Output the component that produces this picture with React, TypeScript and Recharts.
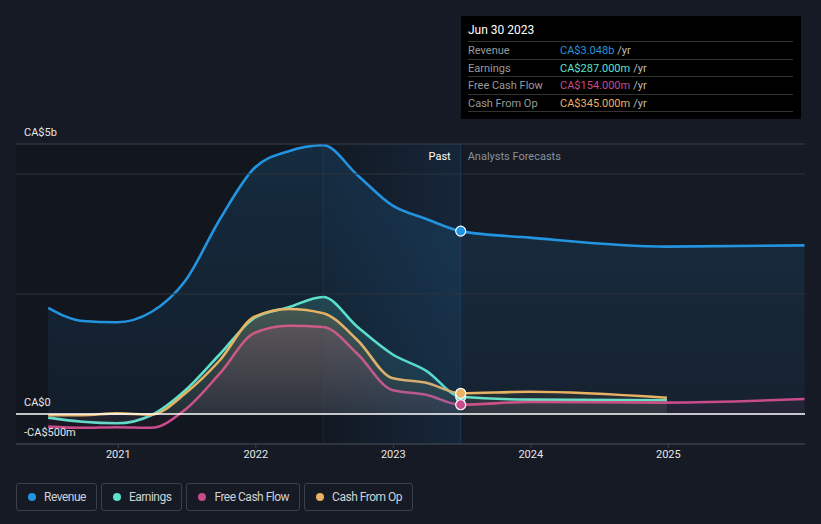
import React from 'react'
import { ComposedChart, Area, XAxis, YAxis, ReferenceLine, ReferenceArea } from 'recharts'

// period ends as fractional years (quarterly history, annual forecasts)
const periods = [2020.49, 2020.74, 2020.99, 2021.24, 2021.49, 2021.74, 2021.99, 2022.24, 2022.49, 2022.74, 2022.99, 2023.24, 2023.49, 2023.99, 2024.99, 2025.99]
// values in CA$ billions
const revenue = [1.77, 1.55, 1.53, 1.7, 2.23, 3.25, 4.1, 4.38, 4.48, 3.98, 3.48, 3.25, 3.048, 2.94, 2.79, 2.81]
const earnings = [-0.06, -0.13, -0.155, -0.02, 0.4, 1.0, 1.6, 1.78, 1.95, 1.45, 1.0, 0.72, 0.287, 0.24, 0.23, null]
const freeCashFlow = [-0.21, -0.23, -0.22, -0.23, 0.08, 0.68, 1.35, 1.47, 1.45, 1.0, 0.4, 0.32, 0.154, 0.2, 0.19, 0.25]
const cashFromOp = [-0.02, -0.02, 0.01, -0.01, 0.35, 0.9, 1.62, 1.75, 1.68, 1.23, 0.6, 0.52, 0.345, 0.37, 0.27, null]

const yearTicks = [2021, 2022, 2023, 2024, 2025]
const lastActual = 2023.49
const highlightStart = 2022.49
const lastActualIndex = 12

const series = [
  { key: 'revenue', name: 'Revenue', color: '#2394df', top: 0.28, bottom: 0.1 },
  { key: 'earnings', name: 'Earnings', color: '#5ee1cc', top: 0.3, bottom: 0.08 },
  { key: 'fcf', name: 'Free Cash Flow', color: '#c84b8b', top: 0.3, bottom: 0.08 },
  { key: 'cfo', name: 'Cash From Op', color: '#e8b264', top: 0.3, bottom: 0.08 },
]

const tooltipRows = [
  { label: 'Revenue', value: 'CA$3.048b', color: '#2394df' },
  { label: 'Earnings', value: 'CA$287.000m', color: '#5ee1cc' },
  { label: 'Free Cash Flow', value: 'CA$154.000m', color: '#c84b8b' },
  { label: 'Cash From Op', value: 'CA$345.000m', color: '#e8b264' },
]

const data = periods.map((t, i) => ({
  t,
  revenue: revenue[i],
  earnings: earnings[i],
  fcf: freeCashFlow[i],
  cfo: cashFromOp[i],
}))

const font = 'Roboto, "Noto Sans", sans-serif'

function yLabel(text: string) {
  return (props: any) => {
    const { viewBox } = props
    return (
      <text x={viewBox.x + 8} y={viewBox.y - 8} fill="#e6e6e6" fontSize={11} fontFamily={font}>
        {text}
      </text>
    )
  }
}

function splitLabel(props: any) {
  const { viewBox } = props
  return (
    <g fontFamily={font} fontSize={11}>
      <text x={viewBox.x - 10} y={viewBox.y + 16} fill="#ffffff" textAnchor="end">Past</text>
      <text x={viewBox.x + 7} y={viewBox.y + 16} fill="#8b9099">Analysts Forecasts</text>
    </g>
  )
}

function makeDot(color: string) {
  return (props: any) => {
    const { cx, cy, index } = props
    if (index !== lastActualIndex || cy == null) return <g key={index} />
    return <circle key={index} cx={cx} cy={cy} r={5} fill={color} stroke="#ffffff" strokeWidth={1.2} />
  }
}

export default function App() {
  return (
    <div style={{ position: 'fixed', left: 0, top: 0, width: 821, height: 524, background: '#151a24', overflow: 'hidden', fontFamily: font }}>
      <ComposedChart width={821} height={524} data={data} margin={{ top: 144, right: 16, bottom: 50, left: 16 }}>
        <defs>
          {series.map((s) => (
            <linearGradient key={s.key} id={'fill-' + s.key} x1="0" y1="0" x2="0" y2="1">
              <stop offset="0%" stopColor={s.color} stopOpacity={s.top} />
              <stop offset="100%" stopColor={s.color} stopOpacity={s.bottom} />
            </linearGradient>
          ))}
          <linearGradient id="highlight" x1="0" y1="0" x2="1" y2="0">
            <stop offset="0%" stopColor="#2a8ad8" stopOpacity={0.04} />
            <stop offset="100%" stopColor="#2a8ad8" stopOpacity={0.28} />
          </linearGradient>
        </defs>
        <XAxis
          dataKey="t"
          type="number"
          domain={[2020.256, 2025.994]}
          ticks={yearTicks}
          allowDataOverflow
          height={30}
          tick={{ fill: '#e6e6e6', fontSize: 11, fontFamily: font }}
          tickSize={4}
          tickLine={{ stroke: '#3b404a' }}
          axisLine={{ stroke: '#3b404a' }}
        />
        <YAxis type="number" domain={[-0.5, 4.5]} hide allowDataOverflow />
        <ReferenceArea x1={2020.256} x2={lastActual} y1={-0.5} y2={4.5} fill="#0d1016" fillOpacity={0.35} stroke="none" />
        <ReferenceLine y={4} stroke="#2d333d" />
        <ReferenceLine y={2} stroke="#2d333d" />
        {series.map((s) => (
          <Area
            key={s.key}
            type="monotone"
            dataKey={s.key}
            stroke={s.color}
            strokeWidth={2.6}
            fill={'url(#fill-' + s.key + ')'}
            dot={makeDot(s.color)}
            activeDot={false}
            isAnimationActive={false}
          />
        ))}
        <ReferenceArea x1={highlightStart} x2={lastActual} y1={-0.5} y2={4.5} fill="url(#highlight)" stroke="none" />
        <ReferenceLine x={highlightStart} stroke="#2a5a85" strokeOpacity={0.25} />
        <ReferenceLine x={lastActual} stroke="#1e3a55" label={splitLabel} />
        <ReferenceLine y={4.5} stroke="#3b404a" label={yLabel('CA$5b')} />
        <ReferenceLine y={0} stroke="#ffffff" strokeWidth={1.3} label={yLabel('CA$0')} />
        <ReferenceLine y={-0.5} stroke="#3b404a" label={yLabel('-CA$500m')} />
      </ComposedChart>

      <div style={{ position: 'absolute', left: 461, top: 16, width: 340, height: 103, background: '#000000', boxSizing: 'border-box', padding: '0 8px 0 7px' }}>
        <div style={{ color: '#ffffff', fontSize: 12, height: 25, lineHeight: '29px' }}>Jun 30 2023</div>
        {tooltipRows.map((r) => (
          <div key={r.label} style={{ display: 'flex', borderTop: '1px solid #333', height: 16.5, lineHeight: '17px', fontSize: 11 }}>
            <span style={{ color: '#9a9a9a', width: 92 }}>{r.label}</span>
            <span style={{ color: r.color }}>{r.value}</span>
            <span style={{ color: '#bdbdbd', marginLeft: 3 }}>/yr</span>
          </div>
        ))}
        <div style={{ borderTop: '1px solid #333' }} />
      </div>

      <div style={{ position: 'absolute', left: 16, top: 483, display: 'flex', gap: 4 }}>
        {series.map((s) => (
          <div key={s.key} style={{ display: 'flex', alignItems: 'center', height: 26, border: '1px solid #3b404a', borderRadius: 3, padding: '0 10px 0 11px', color: '#cfd2d6', fontSize: 12, letterSpacing: '-0.5px' }}>
            <span style={{ width: 8, height: 8, borderRadius: 4, background: s.color, marginRight: 8 }} />
            {s.name}
          </div>
        ))}
      </div>
    </div>
  )
}
